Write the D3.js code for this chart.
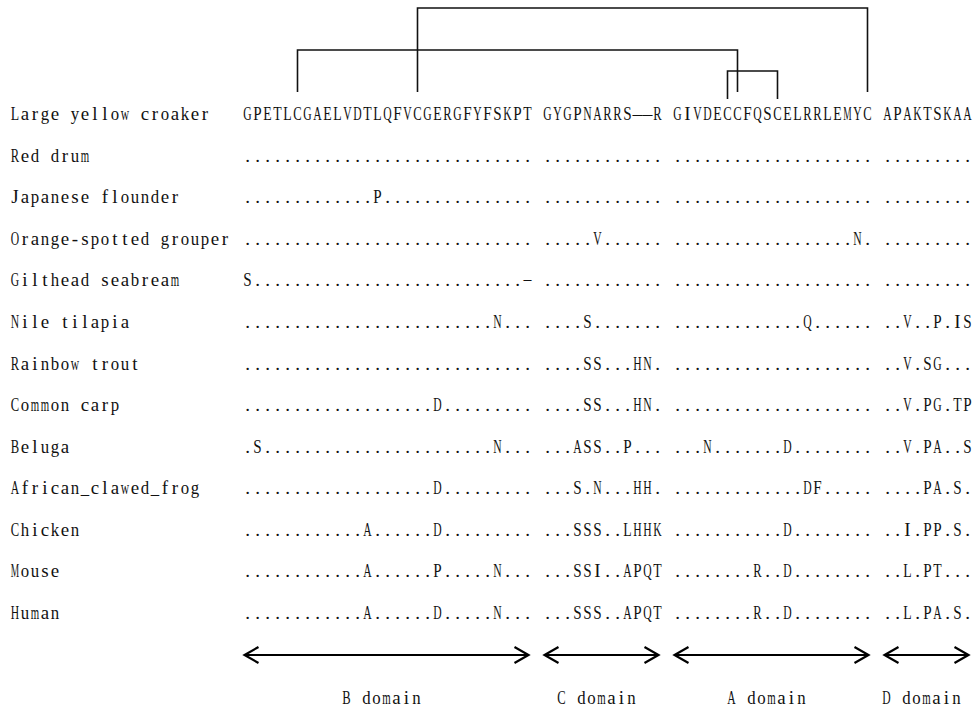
<!DOCTYPE html>
<html>
<head>
<meta charset="utf-8">
<script src="https://cdn.jsdelivr.net/npm/d3@7/dist/d3.min.js"></script>
<style>
  body { margin: 0; background: #fff; }
  text { font-family: "Liberation Serif", serif; fill: #111; }
</style>
</head>
<body>
<div id="chart"></div>
<script>
// species, top to bottom
var species = [
  "Large yellow croaker", "Red drum", "Japanese flounder", "Orange-spotted grouper",
  "Gilthead seabream", "Nile tilapia", "Rainbow trout", "Common carp", "Beluga",
  "African_clawed_frog", "Chicken", "Mouse", "Human"
];

// aligned residues per domain ("." = same as croaker, "-" = gap)
var domainB = [
  "GPETLCGAELVDTLQFVCGERGFYFSKPT",
  ".............................",
  ".............P...............",
  ".............................",
  "S...........................-",
  ".........................N...",
  ".............................",
  "...................D.........",
  ".S.......................N...",
  "...................D.........",
  "............A......D.........",
  "............A......P.....N...",
  "............A......D.....N..."
];
var domainC = [
  "GYGPNARRS--R",
  "............",
  "............",
  ".....V......",
  "............",
  "....S.......",
  "....SS...HN.",
  "....SS...HN.",
  "...ASS..P...",
  "...S.N...HH.",
  "...SSS..LHHK",
  "...SSI..APQT",
  "...SSS..APQT"
];
var domainA = [
  "GIVDECCFQSCELRRLEMYC",
  "....................",
  "....................",
  "..................N.",
  "....................",
  ".............Q......",
  "....................",
  "....................",
  "...N.......D........",
  ".............DF.....",
  "...........D........",
  "........R..D........",
  "........R..D........"
];
var domainD = [
  "APAKTSKAA",
  ".........",
  ".........",
  ".........",
  ".........",
  "..V..P.IS",
  "..V.SG...",
  "..V.PG.TP",
  "..V.PA..S",
  "....PA.S.",
  "..I.PP.S.",
  "..L.PT...",
  "..L.PA.S."
];

var domainNames = ["B domain", "C domain", "A domain", "D domain"];

// disulfide bonds between alignment columns, nest level 0 = outermost
var bondFrom = [17, 5, 48];
var bondTo = [62, 49, 53];
var bondLevel = [0, 1, 2];

/********************************************/

var svgWidth = 979;
var svgHeight = 708;
var fontSize = 19;
var glyphMax = 8.4;   // widest a glyph may be inside its 10px cell

var svg = d3.select("#chart")
  .append("svg")
  .attr("width", svgWidth)
  .attr("height", svgHeight);

var domainSeqs = [domainB, domainC, domainA, domainD];
var rows = species.map(function (name, i) {
  return domainSeqs.map(d => d[i]).join(" ");
});
var nCols = rows[0].length;

// column -> left edge of its cell
var colScale = d3.scaleLinear().domain([0, nCols]).range([242.5, 972.5]);
var charW = colScale(1) - colScale(0);
var rowScale = d3.scaleLinear().domain([0, species.length - 1]).range([120, 619]);

// one glyph per cell, squeezed to fit like a monospace font
function drawMono(parent, str, x0, y, isSeq) {
  var chars = str.split("").map((c, i) => ({ c: c, i: i })).filter(d => d.c !== " ");
  parent.selectAll(null)
    .data(chars)
    .enter()
    .append("text")
    .attr("font-size", fontSize)
    .attr("text-anchor", "middle")
    .text(d => (isSeq && d.c === "-") ? "\u2014" : d.c)
    .each(function (d) {
      var isGap = isSeq && d.c === "-";
      var joined = isGap && (str[d.i - 1] === "-" || str[d.i + 1] === "-");
      var w = this.getComputedTextLength();
      var maxW = isGap ? (joined ? charW : 8) : glyphMax;
      var sx = w > maxW ? maxW / w : 1;
      var dy = (isGap && !joined) ? -1.5 : 0;
      d3.select(this).attr("transform",
        `translate(${x0 + (d.i + 0.5) * charW},${y + dy}) scale(${sx},1)`);
    });
}

/*************** rows **********************/
var rowGroup = svg.append("g");
species.forEach(function (name, i) {
  drawMono(rowGroup, name, 10, rowScale(i), false);
  drawMono(rowGroup, rows[i], colScale(0), rowScale(i), true);
});

/*************** bonds *********************/
var tierY = [8, 50, 71];
var bondGroup = svg.append("g")
  .attr("fill", "none")
  .attr("stroke", "#111")
  .attr("stroke-width", 1.6);

bondFrom.forEach(function (c1, k) {
  var c2 = bondTo[k];
  var x1 = colScale(c1 + 0.5);
  var x2 = colScale(c2 + 0.5);
  var yTop = tierY[bondLevel[k]];
  var yBot = bondLevel[k] === 2 ? 99 : 92;
  bondGroup.append("path")
    .attr("d", `M${x1},${yBot}V${yTop}H${x2}V${yBot}`);
});

/*************** domain arrows ***************/
var domainStart = [];
var start = 0;
domainSeqs.forEach(function (d) {
  domainStart.push(start);
  start += d[0].length + 1;
});

var arrowY = 655;
var arrowGroup = svg.append("g")
  .attr("fill", "none")
  .attr("stroke", "#000")
  .attr("stroke-width", 2.2);

domainNames.forEach(function (name, k) {
  var c0 = domainStart[k];
  var c1 = c0 + domainSeqs[k][0].length;
  var xa = colScale(c0) + 2;
  var xb = colScale(c1) - 4;
  arrowGroup.append("path").attr("d", `M${xa},${arrowY}H${xb}`);
  arrowGroup.append("path").attr("d", `M${xa + 14},${arrowY - 8}L${xa},${arrowY}L${xa + 14},${arrowY + 8}`);
  arrowGroup.append("path").attr("d", `M${xb - 14},${arrowY - 8}L${xb},${arrowY}L${xb - 14},${arrowY + 8}`);

  var mid = (colScale(c0) + colScale(c1)) / 2 - 6;
  drawMono(svg, name, mid - name.length * charW / 2, 704, false);
});
</script>
</body>
</html>
